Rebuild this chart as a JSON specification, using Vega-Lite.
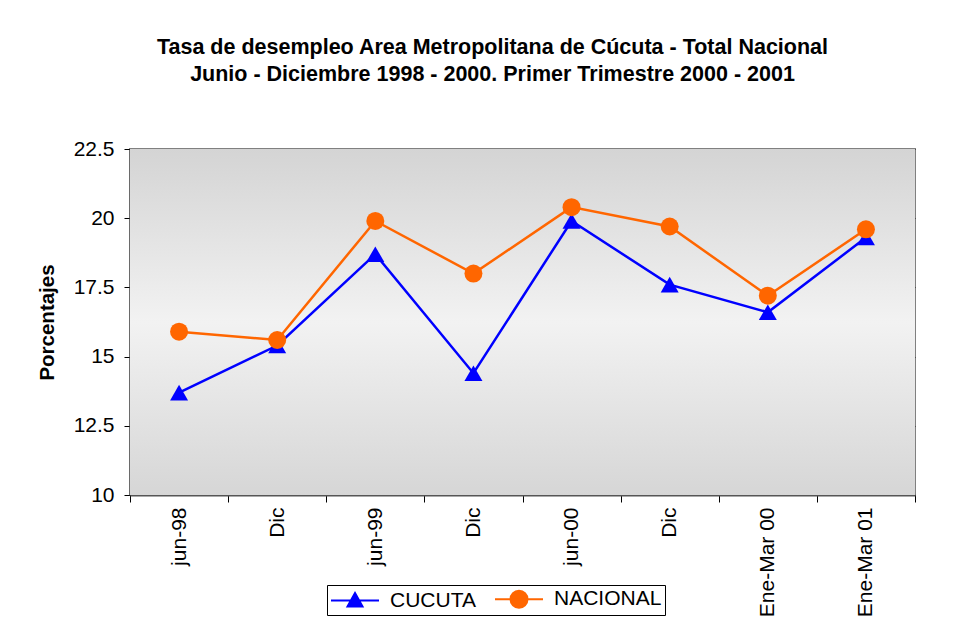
{
  "$schema": "https://vega.github.io/schema/vega-lite/v6.json",
  "width": 785,
  "height": 346,
  "autosize": {"type": "none"},
  "padding": {"left": 130, "top": 149, "right": 48, "bottom": 124},
  "background": "white",
  "title": {
    "text": ["Tasa de desempleo Area Metropolitana de Cúcuta - Total Nacional", "Junio - Diciembre 1998 - 2000. Primer Trimestre 2000 - 2001"],
    "font": "Liberation Sans",
    "fontSize": 21.5,
    "fontWeight": "bold",
    "color": "black",
    "lineHeight": 27,
    "anchor": "middle",
    "dx": -30,
    "offset": 53
  },
  "data": {
    "values": [
      {"cat": "jun-98", "serie": "CUCUTA", "valor": 13.7},
      {"cat": "Dic-98", "serie": "CUCUTA", "valor": 15.4},
      {"cat": "jun-99", "serie": "CUCUTA", "valor": 18.7},
      {"cat": "Dic-99", "serie": "CUCUTA", "valor": 14.4},
      {"cat": "jun-00", "serie": "CUCUTA", "valor": 19.9},
      {"cat": "Dic-00", "serie": "CUCUTA", "valor": 17.6},
      {"cat": "Ene-Mar 00", "serie": "CUCUTA", "valor": 16.6},
      {"cat": "Ene-Mar 01", "serie": "CUCUTA", "valor": 19.3},
      {"cat": "jun-98", "serie": "NACIONAL", "valor": 15.9},
      {"cat": "Dic-98", "serie": "NACIONAL", "valor": 15.6},
      {"cat": "jun-99", "serie": "NACIONAL", "valor": 19.9},
      {"cat": "Dic-99", "serie": "NACIONAL", "valor": 18.0},
      {"cat": "jun-00", "serie": "NACIONAL", "valor": 20.4},
      {"cat": "Dic-00", "serie": "NACIONAL", "valor": 19.7},
      {"cat": "Ene-Mar 00", "serie": "NACIONAL", "valor": 17.2},
      {"cat": "Ene-Mar 01", "serie": "NACIONAL", "valor": 19.6}
    ]
  },
  "layer": [
    {
      "data": {"values": [{"lo": 10, "hi": 22.5}]},
      "mark": {
        "type": "rect",
        "color": {
          "gradient": "linear",
          "x1": 0, "y1": 0, "x2": 0, "y2": 1,
          "stops": [
            {"offset": 0, "color": "#d4d4d4"},
            {"offset": 0.5, "color": "#f2f2f2"},
            {"offset": 1, "color": "#d6d6d6"}
          ]
        }
      },
      "encoding": {
        "y": {"field": "hi", "type": "quantitative", "scale": {"domain": [10, 22.5], "nice": false, "zero": false}},
        "y2": {"field": "lo"}
      }
    },
    {
      "mark": {"type": "line", "strokeWidth": 2.5},
      "encoding": {
        "x": {
          "field": "cat", "type": "nominal", "sort": null,
          "scale": {"type": "band", "paddingInner": 0, "paddingOuter": 0},
          "axis": {
            "title": null,
            "labelAngle": -90,
            "labelFont": "Liberation Sans",
            "labelFontSize": 21,
            "labelColor": "black",
            "labelPadding": 5,
            "labelExpr": "indexof(datum.label, 'Dic') === 0 ? 'Dic' : datum.label",
            "tickBand": "extent",
            "tickSize": 7,
            "tickColor": "black",
            "domainColor": "#555555",
            "domainWidth": 2,
            "grid": false
          }
        },
        "y": {
          "field": "valor", "type": "quantitative",
          "scale": {"domain": [10, 22.5], "nice": false, "zero": false},
          "axis": {
            "title": "Porcentajes",
            "titleFont": "Liberation Sans",
            "titleFontSize": 20.5,
            "titleFontWeight": "bold",
            "titleColor": "black",
            "titlePadding": 16,
            "values": [10, 12.5, 15, 17.5, 20, 22.5],
            "format": ".1~f",
            "labelFont": "Liberation Sans",
            "labelFontSize": 21,
            "labelColor": "black",
            "labelPadding": 10,
            "tickSize": 6,
            "tickColor": "black",
            "domainColor": "#555555",
            "domainWidth": 2,
            "grid": true,
            "gridColor": "#222222",
            "gridWidth": 1
          }
        },
        "color": {
          "field": "serie", "type": "nominal",
          "scale": {"domain": ["CUCUTA", "NACIONAL"], "range": ["#0000ff", "#ff6600"]},
          "legend": {"title": null}
        }
      }
    },
    {
      "mark": {"type": "point", "filled": true, "opacity": 1, "size": 324},
      "encoding": {
        "x": {"field": "cat", "type": "nominal", "sort": null},
        "y": {"field": "valor", "type": "quantitative"},
        "color": {"field": "serie", "type": "nominal", "legend": {"title": null}},
        "shape": {
          "condition": {"test": "datum.serie === 'CUCUTA'", "value": "triangle-up"},
          "value": "circle"
        }
      }
    },
    {
      "data": {"values": []},
      "mark": {"type": "point", "filled": true, "strokeWidth": 2},
      "encoding": {
        "color": {"field": "serie", "type": "nominal", "legend": {"title": null}},
        "stroke": {
          "field": "serie", "type": "nominal",
          "scale": {"domain": ["CUCUTA", "NACIONAL"], "range": ["#0000ff", "#ff6600"]},
          "legend": {"title": null}
        },
        "shape": {
          "field": "serie", "type": "nominal",
          "scale": {"domain": ["CUCUTA", "NACIONAL"], "range": ["M-1,0H3.8M1.4,-0.75L2.15,0.6H0.65Z", "M-1,0H3.8M2.25,0A0.85,0.85 0 1,1 0.55,0A0.85,0.85 0 1,1 2.25,0Z"]},
          "legend": {"title": null}
        }
      }
    }
  ],
  "config": {
    "view": {"stroke": "#808080", "strokeWidth": 2},
    "font": "Liberation Sans",
    "legend": {
      "orient": "none",
      "direction": "horizontal",
      "legendX": 197,
      "legendY": 436,
      "strokeColor": "black",
      "fillColor": "white",
      "padding": 3,
      "symbolSize": 400,
      "symbolStrokeWidth": 2,
      "labelFont": "Liberation Sans",
      "labelFontSize": 21,
      "labelColor": "black",
      "labelOffset": 38,
      "columnPadding": 15
    }
  }
}
